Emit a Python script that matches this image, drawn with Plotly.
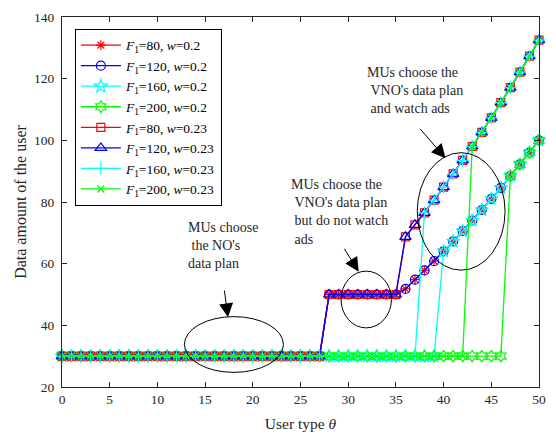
import plotly.graph_objects as go

theta = list(range(51))

y_80_020 = [30] * 28 + [50] * 8 + [51.8, 54.8, 57.8, 60.8, 64.0, 67.2, 70.6, 74.0, 77.4, 81.0, 84.6, 88.4, 92.2, 96.0, 100.0]
y_120_020 = [30] * 28 + [50] * 8 + [51.8, 54.8, 57.8, 60.8, 64.0, 67.2, 70.6, 74.0, 77.4, 81.0, 84.6, 88.4, 92.2, 96.0, 100.0]
y_160_020 = [30] * 40 + [64.0, 67.2, 70.6, 74.0, 77.4, 81.0, 84.6, 88.4, 92.2, 96.0, 100.0]
y_200_020 = [30] * 47 + [88.4, 92.2, 96.0, 100.0]
y_80_023 = [30] * 28 + [50] * 8 + [68.7, 72.6, 76.5, 80.6, 84.8, 89.1, 93.5, 98.0, 102.6, 107.3, 112.2, 117.1, 122.1, 127.3, 132.5]
y_120_023 = [30] * 28 + [50] * 8 + [68.7, 72.6, 76.5, 80.6, 84.8, 89.1, 93.5, 98.0, 102.6, 107.3, 112.2, 117.1, 122.1, 127.3, 132.5]
y_160_023 = [30] * 38 + [76.5, 80.6, 84.8, 89.1, 93.5, 98.0, 102.6, 107.3, 112.2, 117.1, 122.1, 127.3, 132.5]
y_200_023 = [30] * 43 + [98.0, 102.6, 107.3, 112.2, 117.1, 122.1, 127.3, 132.5]

names = [
    "<i>F</i><sub>1</sub>=80, <i>w</i>=0.2",
    "<i>F</i><sub>1</sub>=120, <i>w</i>=0.2",
    "<i>F</i><sub>1</sub>=160, <i>w</i>=0.2",
    "<i>F</i><sub>1</sub>=200, <i>w</i>=0.2",
    "<i>F</i><sub>1</sub>=80, <i>w</i>=0.23",
    "<i>F</i><sub>1</sub>=120, <i>w</i>=0.23",
    "<i>F</i><sub>1</sub>=160, <i>w</i>=0.23",
    "<i>F</i><sub>1</sub>=200, <i>w</i>=0.23",
]
series = [y_80_020, y_120_020, y_160_020, y_200_020, y_80_023, y_120_023, y_160_023, y_200_023]
colors = ["#FF0000", "#0000FF", "#00FFFF", "#00FF00", "#FF0000", "#0000FF", "#00FFFF", "#00FF00"]
symbols = ["asterisk-open", "circle-open", "star-open", "hexagram-open",
           "square-open", "triangle-up-open", "cross-thin-open", "x-thin-open"]
sizes = [8, 9, 10, 9, 8, 10, 9, 7]

FONT = "Liberation Serif"
fig = go.Figure()
for n, ys, c, s, sz in zip(names, series, colors, symbols, sizes):
    fig.add_trace(go.Scatter(
        x=theta, y=ys, name=n, mode="lines+markers",
        line=dict(color=c, width=1.3),
        marker=dict(symbol=s, size=sz, color=c, line=dict(color=c, width=1.2)),
        cliponaxis=False,
    ))

# ellipses
ell = [(12.83, 24.74, 23.21, 42.83), (29.25, 39.17, 34.53, 57.58), (37.24, 57.89, 46.44, 96.0)]
for x0, y0, x1, y1 in ell:
    fig.add_shape(type="circle", xref="x", yref="y", x0=x0, y0=y0, x1=x1, y1=y1,
                  line=dict(color="black", width=1))

# arrows (tail -> head)
arrows = [((17.0, 51.8), (17.4, 42.6)), ((29.5, 65.3), (31.1, 57.4)), ((37.4, 104.2), (40.2, 94.2))]
for (tx, ty), (hx, hy) in arrows:
    fig.add_annotation(x=hx, y=hy, ax=tx, ay=ty, xref="x", yref="y", axref="x", ayref="y",
                       text="", showarrow=True, arrowhead=2, arrowsize=2.8, arrowwidth=1,
                       arrowcolor="black")

texts = [
    (13.0, 74.7, "MUs choose<br>&nbsp;the NO's<br>data plan"),
    (23.77, 88.7, "MUs choose the<br>&nbsp;VNO's data plan<br>&nbsp;but do not watch<br>&nbsp;ads"),
    (31.75, 125.0, "MUs choose the<br>&nbsp;VNO's data plan<br>&nbsp;and watch ads"),
]
for x, y, t in texts:
    fig.add_annotation(x=x, y=y, xref="x", yref="y", text=t, showarrow=False,
                       xanchor="left", yanchor="top", align="left",
                       font=dict(family=FONT, size=14, color="#262626"))

axis_common = dict(showline=True, linecolor="#262626", linewidth=1, mirror="ticks",
                   ticks="inside", ticklen=5, tickcolor="#262626", showgrid=False,
                   zeroline=False, tickfont=dict(family=FONT, size=13.5, color="#262626"))

fig.update_layout(
    width=556, height=439,
    margin=dict(l=62, r=14, t=10, b=49),
    paper_bgcolor="white", plot_bgcolor="white",
    xaxis=dict(range=[0, 50], tickvals=list(range(0, 51, 5)),
               title=dict(text="User type <i>θ</i>", font=dict(family=FONT, size=15.5, color="#262626"), standoff=11),
               **axis_common),
    yaxis=dict(range=[20, 140], tickvals=list(range(20, 141, 20)),
               title=dict(text="Data amount of the user", font=dict(family=FONT, size=16, color="#262626"), standoff=3),
               ticklabelstandoff=4,
               **axis_common),
    legend=dict(x=0.027, y=0.968, xanchor="left", yanchor="top",
                bordercolor="black", borderwidth=1, bgcolor="white",
                font=dict(family=FONT, size=13.5, color="black"),
                tracegroupgap=0, itemwidth=40),
    showlegend=True,
)

fig.write_html("out.html")
